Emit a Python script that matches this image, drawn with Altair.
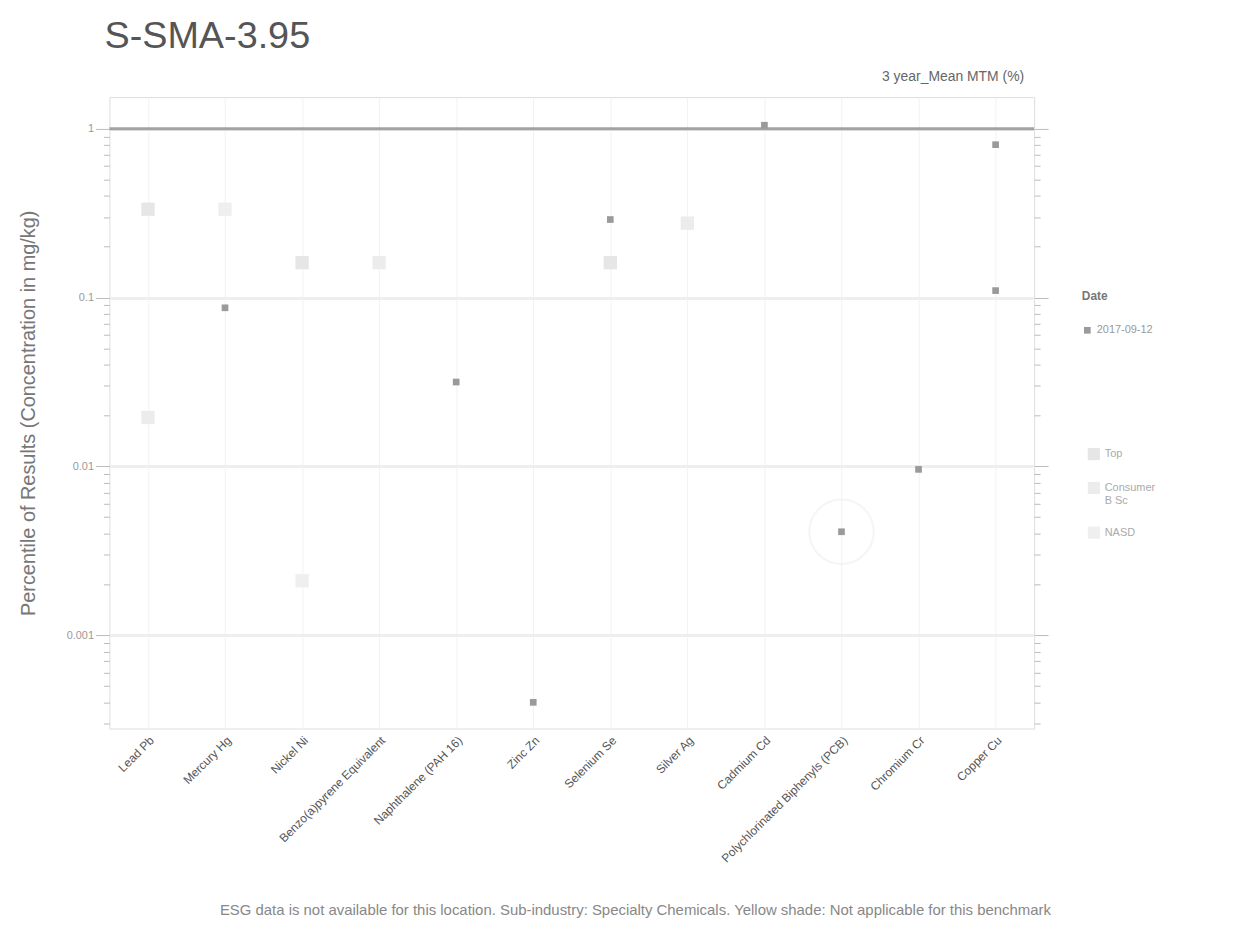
import altair as alt
import pandas as pd

# ---- data ----
categories = ["Lead Pb", "Mercury Hg", "Nickel Ni", "Benzo(a)pyrene Equivalent",
              "Naphthalene (PAH 16)", "Zinc Zn", "Selenium Se", "Silver Ag",
              "Cadmium Cd", "Polychlorinated Biphenyls (PCB)", "Chromium Cr", "Copper Cu"]

date_cats = ["Mercury Hg", "Naphthalene (PAH 16)", "Zinc Zn", "Selenium Se", "Cadmium Cd",
             "Polychlorinated Biphenyls (PCB)", "Chromium Cr", "Copper Cu", "Copper Cu"]
date_vals = [0.087, 0.0316, 0.0004, 0.29, 1.05, 0.0041, 0.0096, 0.805, 0.11]
date_label = "2017-09-12"

tag_cats = ["Lead Pb", "Lead Pb", "Mercury Hg", "Nickel Ni", "Nickel Ni",
            "Benzo(a)pyrene Equivalent", "Selenium Se", "Silver Ag"]
tag_vals = [0.334, 0.0195, 0.334, 0.161, 0.0021, 0.161, 0.161, 0.276]
tag_names = ["Top", "Consumer B Sc", "NASD", "Top", "NASD", "Consumer B Sc", "Top", "Consumer B Sc"]
tag_order = ["Top", "Consumer B Sc", "NASD"]

major_ticks = [0.001, 0.01, 0.1, 1]
minor_ticks = [m * 10 ** e for e in (-4, -3, -2, -1, 0) for m in range(1, 10)]
minor_ticks = [v for v in minor_ticks if 0.00028 <= v <= 1.54]

ref_value = [1]

title_text = "S-SMA-3.95"
top_right_text = "3 year_Mean MTM (%)"
y_title = "Percentile of Results (Concentration in mg/kg)"
footnote = ("ESG data is not available for this location.   Sub-industry: Specialty Chemicals.   "
            "Yellow shade: Not applicable for this benchmark")

W, H = 930, 635
GREY_TXT = "#666666"

date_df = pd.DataFrame({"cat": date_cats, "val": date_vals, "date": [date_label] * len(date_vals)})
tag_df = pd.DataFrame({"cat": tag_cats, "val": tag_vals, "tag": tag_names})
ref_df = pd.DataFrame({"val": ref_value})
ring_df = pd.DataFrame({"cat": ["Polychlorinated Biphenyls (PCB)"], "val": [0.0041]})

is_major = "abs(log(datum.value)/LN10 - round(log(datum.value)/LN10)) < 1e-6"

xscale = alt.Scale(type="point", domain=categories, padding=0.5)
yscale = alt.Scale(type="log", domain=[0.00028, 1.54], nice=False)

x_enc = alt.X("cat:N", scale=xscale, sort=categories, title=None,
              axis=alt.Axis(labelAngle=-45, labelAlign="right", labelBaseline="top",
                            labelFontSize=12, labelColor="#555555", labelFont="Liberation Sans",
                            grid=True, gridColor="#f2f2f2", ticks=False, domain=False,
                            labelPadding=6, labelLimit=400))

y_axis_left = alt.Axis(values=minor_ticks, orient="left", title=y_title,
                       titleFontSize=20, titleColor="#777777", titleFont="Liberation Sans",
                       titleFontWeight="normal", titlePadding=28,
                       labelExpr="(" + is_major + ") ? datum.label : ''",
                       format="~g", labelFontSize=11, labelColor="#999999",
                       tickColor="#bbbbbb",
                       tickSize={"condition": {"test": is_major, "value": 14}, "value": 6},
                       grid=True,
                       gridColor={"condition": {"test": is_major, "value": "#eeeeee"}, "value": "transparent"},
                       gridWidth=3, domain=False)

faint = alt.Chart(tag_df).mark_square(size=180, opacity=1).encode(
    x=x_enc,
    y=alt.Y("val:Q", scale=yscale, axis=y_axis_left),
    color=alt.Color("tag:N", scale=alt.Scale(domain=tag_order, range=["#e6e6e6", "#ececec", "#efefef"]),
                    legend=alt.Legend(title=None, orient="none", legendX=983, legendY=352,
                                      symbolType="square", symbolSize=150, labelFontSize=11,
                                      labelColor="#aaaaaa", labelLimit=120, rowPadding=20,
                                      labelExpr="datum.label == 'Consumer B Sc' ? ['Consumer', 'B Sc'] : datum.label")),
)

ring = alt.Chart(ring_df).mark_point(shape="circle", size=4200, filled=False, strokeWidth=2,
                                     color="#f2f2f2").encode(
    x=alt.X("cat:N", scale=xscale, sort=categories),
    y=alt.Y("val:Q", scale=yscale, axis=None),
)

ref = alt.Chart(ref_df).mark_rule(color="#a3a3a3", strokeWidth=3).encode(
    y=alt.Y("val:Q", scale=yscale, axis=None)
)

dark = alt.Chart(date_df).mark_point(filled=True, size=45, opacity=1, color="#9a9a9a").encode(
    x=alt.X("cat:N", scale=xscale, sort=categories),
    y=alt.Y("val:Q", scale=yscale, axis=None),
    shape=alt.Shape("date:N", scale=alt.Scale(range=["square"]),
                    legend=alt.Legend(title="Date", orient="none", legendX=978, legendY=195,
                                      titleFontSize=12, titleColor="#777777", labelFontSize=11,
                                      labelColor="#999999", symbolSize=45, symbolFillColor="#9a9a9a",
                                      symbolStrokeColor="#9a9a9a", titlePadding=22)),
)

right_axis = alt.Chart(ref_df).mark_rule(opacity=0).encode(
    y=alt.Y("val:Q", scale=yscale,
            axis=alt.Axis(values=minor_ticks, orient="right", title=None, labels=False,
                          tickColor="#bbbbbb",
                          tickSize={"condition": {"test": is_major, "value": 14}, "value": 6},
                          grid=False, domain=False))
)

top_txt = alt.Chart(ref_df).mark_text(align="right", fontSize=14, color=GREY_TXT,
                                      font="Liberation Sans").encode(
    x=alt.value(920), y=alt.value(-20), text=alt.value(top_right_text))

foot_txt = alt.Chart(ref_df).mark_text(align="center", fontSize=15, color="#888888",
                                       font="Liberation Sans").encode(
    x=alt.value(529), y=alt.value(818), text=alt.value(footnote))

chart = alt.layer(faint, ring, ref, dark, right_axis, top_txt, foot_txt).resolve_scale(
    y="shared"
).resolve_axis(y="independent").properties(
    width=W, height=H,
    autosize=alt.AutoSizeParams(type="none"),
    padding={"left": 102, "top": 87, "right": 200, "bottom": 200},
    title=alt.TitleParams(title_text, anchor="start", frame="group", fontSize=38,
                          font="Liberation Sans", fontWeight="normal", color="#555555",
                          offset=14, dx=-5),
).configure_view(stroke="#eeeeee").configure(background="white")

chart.save("out.html", embed_options={"renderer": "svg", "actions": False})
